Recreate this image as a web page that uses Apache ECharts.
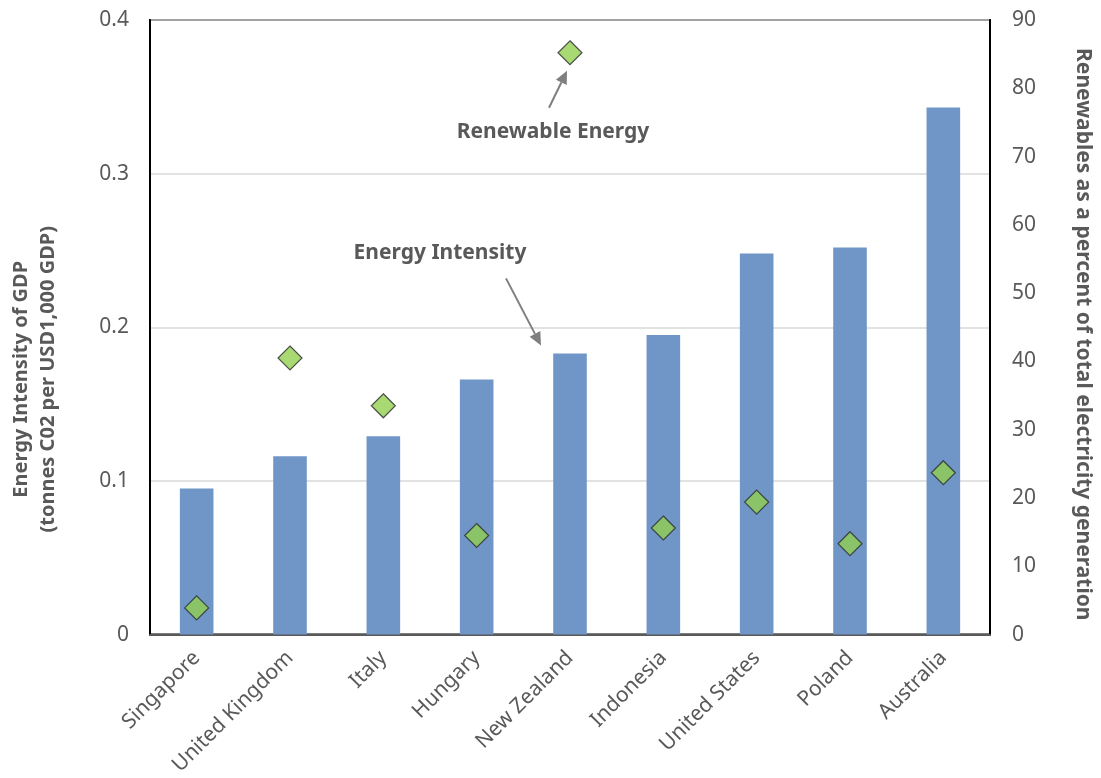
<!DOCTYPE html>
<html>
<head>
<meta charset="utf-8">
<script src="https://cdn.jsdelivr.net/npm/echarts@6/dist/echarts.min.js"></script>
<style>
  html, body { margin: 0; padding: 0; background: #ffffff; }
  #chart { width: 1101px; height: 778px; }
</style>
</head>
<body>
<div id="chart"></div>
<script>
// Countries, ordered by energy intensity
const countries = ['Singapore', 'United Kingdom', 'Italy', 'Hungary', 'New Zealand',
                   'Indonesia', 'United States', 'Poland', 'Australia'];
// Energy intensity of GDP (tonnes CO2 per USD1,000 GDP)
const energyIntensity = [0.095, 0.116, 0.129, 0.166, 0.183, 0.195, 0.248, 0.252, 0.343];
// Renewables as a percent of total electricity generation
const renewableShare = [3.9, 40.5, 33.5, 14.5, 85.2, 15.6, 19.4, 13.3, 23.7];
// Axis ticks
const leftTicks = [0, 0.1, 0.2, 0.3, 0.4];
const rightTicks = [0, 10, 20, 30, 40, 50, 60, 70, 80, 90];

const FONT = '"Noto Sans", "Open Sans", sans-serif';
const TEXT = '#595959';

const chart = echarts.init(document.getElementById('chart'));

chart.setOption({
  animation: false,
  backgroundColor: '#ffffff',
  grid: {
    left: 150, right: 111, top: 20, bottom: 142,
    show: true, borderColor: '#000000', borderWidth: 2
  },
  xAxis: {
    type: 'category',
    data: countries,
    axisLine: { show: true, lineStyle: { color: '#595959', width: 2 } },
    axisTick: { show: false },
    axisLabel: {
      rotate: 45, margin: 20, color: TEXT, fontFamily: FONT, fontSize: 21,
      interval: 0
    }
  },
  yAxis: [
    {
      type: 'value',
      min: leftTicks[0], max: leftTicks[leftTicks.length - 1], interval: 0.1,
      position: 'left',
      axisLine: { show: true, lineStyle: { color: '#000000', width: 2 } },
      axisTick: { show: false },
      splitLine: { show: true, lineStyle: { color: '#d9d9d9', width: 1.5 } },
      axisLabel: {
        margin: 21, color: TEXT, fontFamily: FONT, fontSize: 21,
        formatter: v => (v === 0 ? '0' : v.toFixed(1))
      }
    },
    {
      type: 'value',
      min: rightTicks[0], max: rightTicks[rightTicks.length - 1], interval: 10,
      position: 'right',
      axisLine: { show: true, lineStyle: { color: '#000000', width: 2 } },
      axisTick: { show: false },
      splitLine: { show: false },
      axisLabel: { margin: 22, color: TEXT, fontFamily: FONT, fontSize: 21 }
    }
  ],
  series: [
    {
      name: 'Energy Intensity',
      type: 'bar',
      yAxisIndex: 0,
      data: energyIntensity,
      barWidth: '36%',
      itemStyle: { color: '#6F96C6' }
    },
    {
      name: 'Renewable Energy',
      type: 'scatter',
      yAxisIndex: 1,
      data: renewableShare,
      symbol: 'diamond',
      symbolSize: [24, 24],
      itemStyle: { color: '#92D050', borderColor: '#2b2b2b', borderWidth: 1.2 },
      z: 5
    }
  ]
});

// Axis titles and the two callouts, anchored to the New Zealand data point
function drawAnnotations() {
  const nz = countries.indexOf('New Zealand');
  const dia = chart.convertToPixel({ xAxisIndex: 0, yAxisIndex: 1 }, [nz, renewableShare[nz]]);
  const bar = chart.convertToPixel({ xAxisIndex: 0, yAxisIndex: 0 }, [nz, energyIntensity[nz]]);
  const top = chart.convertToPixel({ yAxisIndex: 0 }, leftTicks[leftTicks.length - 1]);
  const bottom = chart.convertToPixel({ yAxisIndex: 0 }, leftTicks[0]);
  const mid = (top + bottom) / 2;

  const arrow = (x1, y1, x2, y2) => {
    const ang = Math.atan2(y2 - y1, x2 - x1);
    const L = 13, W = 6;
    const bx = x2 - L * Math.cos(ang), by = y2 - L * Math.sin(ang);
    return [
      { type: 'line', shape: { x1, y1, x2: bx, y2: by },
        style: { stroke: '#7f7f7f', lineWidth: 2 }, z: 10 },
      { type: 'polygon',
        shape: { points: [[x2, y2],
          [bx + W * Math.sin(ang), by - W * Math.cos(ang)],
          [bx - W * Math.sin(ang), by + W * Math.cos(ang)]] },
        style: { fill: '#7f7f7f' }, z: 10 }
    ];
  };

  const elements = [
    {
      type: 'text', x: 35, y: mid + 52, rotation: Math.PI / 2,
      style: {
        text: 'Energy Intensity of GDP\n(tonnes C02 per USD1,000 GDP)',
        fill: TEXT, font: 'bold 20px ' + FONT, align: 'center',
        verticalAlign: 'middle', lineHeight: 27
      }
    },
    {
      type: 'text', x: 1083, y: mid + 7, rotation: -Math.PI / 2,
      style: {
        text: 'Renewables as a percent of total electricity generation',
        fill: TEXT, font: 'bold 21px ' + FONT, align: 'center',
        verticalAlign: 'middle'
      }
    },
    {
      type: 'text', x: dia[0] - 17, y: dia[1] + 79,
      style: {
        text: 'Renewable Energy', fill: TEXT, font: 'bold 21px ' + FONT,
        align: 'center', verticalAlign: 'middle'
      }
    },
    {
      type: 'text', x: bar[0] - 130, y: bar[1] - 100,
      style: {
        text: 'Energy Intensity', fill: TEXT, font: 'bold 21px ' + FONT,
        align: 'center', verticalAlign: 'middle'
      }
    }
  ]
    .concat(arrow(dia[0] - 21, dia[1] + 55, dia[0] - 3, dia[1] + 18))
    .concat(arrow(bar[0] - 64, bar[1] - 75, bar[0] - 29, bar[1] - 8));

  chart.setOption({ graphic: { elements } });
}
drawAnnotations();
</script>
</body>
</html>
